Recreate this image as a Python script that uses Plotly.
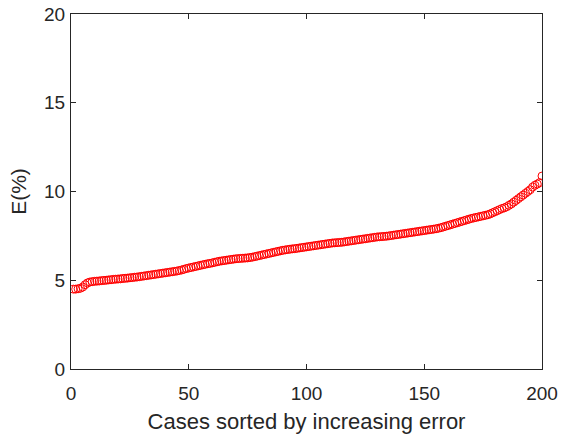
import plotly.graph_objects as go

errors = [
    4.50, 4.50, 4.52, 4.55, 4.62, 4.75, 4.85, 4.90, 4.92, 4.94,
    4.95, 4.96, 4.98, 4.99, 5.00, 5.02, 5.03, 5.05, 5.06, 5.07,
    5.08, 5.10, 5.11, 5.12, 5.14, 5.15, 5.17, 5.18, 5.20, 5.22,
    5.24, 5.26, 5.28, 5.30, 5.32, 5.34, 5.36, 5.38, 5.40, 5.42,
    5.44, 5.46, 5.48, 5.50, 5.52, 5.55, 5.58, 5.62, 5.66, 5.69,
    5.72, 5.75, 5.78, 5.81, 5.84, 5.87, 5.90, 5.93, 5.95, 5.98,
    6.01, 6.04, 6.07, 6.09, 6.11, 6.13, 6.15, 6.17, 6.19, 6.21,
    6.22, 6.23, 6.24, 6.25, 6.26, 6.28, 6.30, 6.33, 6.36, 6.39,
    6.42, 6.45, 6.48, 6.51, 6.54, 6.57, 6.60, 6.63, 6.66, 6.69,
    6.71, 6.73, 6.75, 6.77, 6.78, 6.80, 6.82, 6.84, 6.86, 6.88,
    6.90, 6.92, 6.94, 6.96, 6.98, 7.00, 7.02, 7.04, 7.06, 7.08,
    7.10, 7.11, 7.12, 7.13, 7.14, 7.16, 7.18, 7.20, 7.22, 7.24,
    7.26, 7.28, 7.30, 7.32, 7.34, 7.36, 7.38, 7.40, 7.42, 7.44,
    7.45, 7.46, 7.47, 7.48, 7.50, 7.52, 7.54, 7.56, 7.58, 7.60,
    7.62, 7.64, 7.66, 7.68, 7.70, 7.72, 7.74, 7.76, 7.78, 7.80,
    7.82, 7.84, 7.86, 7.88, 7.90, 7.93, 7.96, 8.00, 8.04, 8.08,
    8.12, 8.16, 8.20, 8.24, 8.28, 8.32, 8.36, 8.40, 8.44, 8.48,
    8.51, 8.54, 8.57, 8.60, 8.63, 8.66, 8.69, 8.74, 8.80, 8.86,
    8.92, 8.98, 9.04, 9.08, 9.14, 9.22, 9.30, 9.40, 9.50, 9.60,
    9.70, 9.80, 9.90, 10.00, 10.10, 10.25, 10.35, 10.42, 10.50, 10.87,
]
cases = list(range(1, len(errors) + 1))

x_ticks = [0, 50, 100, 150, 200]
y_ticks = [0, 5, 10, 15, 20]

fig = go.Figure()
fig.add_trace(go.Scatter(
    x=cases, y=errors, mode="markers",
    marker=dict(symbol="circle-open", size=8, color="#ff0000",
                line=dict(width=1, color="#ff0000")),
    showlegend=False, hoverinfo="skip",
))

axis_common = dict(
    showgrid=False, zeroline=False, showline=True, linecolor="#262626",
    linewidth=1, mirror="ticks", ticks="inside", ticklen=5,
    tickcolor="#262626", tickfont=dict(size=19, color="#262626"),
    automargin=False,
)
fig.update_layout(
    width=567, height=439,
    margin=dict(l=71, r=25, t=14, b=70, autoexpand=False),
    plot_bgcolor="white", paper_bgcolor="white",
    font=dict(family="Liberation Sans, Arial, sans-serif", color="#262626"),
    xaxis=dict(range=[0, 200], tickvals=x_ticks, ticklabelstandoff=7,
               title=dict(text="Cases sorted by increasing error",
                          font=dict(size=22), standoff=10),
               **axis_common),
    yaxis=dict(range=[0, 20], tickvals=y_ticks, ticklabelstandoff=1,
               title=dict(text="E(%)", font=dict(size=21), standoff=11),
               **axis_common),
)
fig.write_html("out.html", config={"displayModeBar": False},
               post_script="document.body.style.margin='0px';document.body.style.padding='0px';")
